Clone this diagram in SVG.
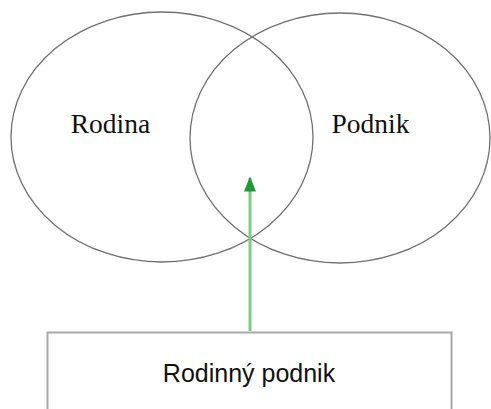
<svg xmlns="http://www.w3.org/2000/svg" width="491" height="409" viewBox="0 0 491 409">
  <style>
    .set { fill: none; stroke: #707070; stroke-width: 1.3; }
    .setlabel { font-family: "Liberation Serif", "Times New Roman", serif; font-size: 27.5px; fill: #111; text-anchor: middle; }
    .box { fill: #fff; stroke: #a8a8a8; stroke-width: 2; }
    .boxlabel { font-family: "Liberation Sans", Arial, sans-serif; font-size: 25px; fill: #111; text-anchor: middle; }
    .link { stroke: #7ccb80; stroke-width: 3; fill: none; }
  </style>
  <defs>
    <marker id="arrow" markerWidth="5" markerHeight="4" refX="4.5" refY="2" orient="auto" markerUnits="strokeWidth">
      <path d="M0,0 L5,2 L0,4 Z" fill="#1f9a34"/>
    </marker>
  </defs>
  <rect width="491" height="409" fill="#fff"/>
  <g id="rodina">
    <ellipse class="set" cx="162" cy="137" rx="151" ry="125"/>
    <text class="setlabel" x="110.5" y="132.5">Rodina</text>
  </g>
  <g id="podnik">
    <ellipse class="set" cx="340" cy="138" rx="150" ry="125"/>
    <text class="setlabel" x="370.5" y="132.5">Podnik</text>
  </g>
  <g id="rodinny-podnik">
    <rect class="box" x="47.5" y="332.5" width="404" height="90"/>
    <text class="boxlabel" x="249" y="382">Rodinný podnik</text>
  </g>
  <g id="connectors">
    <line class="link" x1="250" y1="331" x2="250" y2="178" marker-end="url(#arrow)"/>
  </g>
</svg>
